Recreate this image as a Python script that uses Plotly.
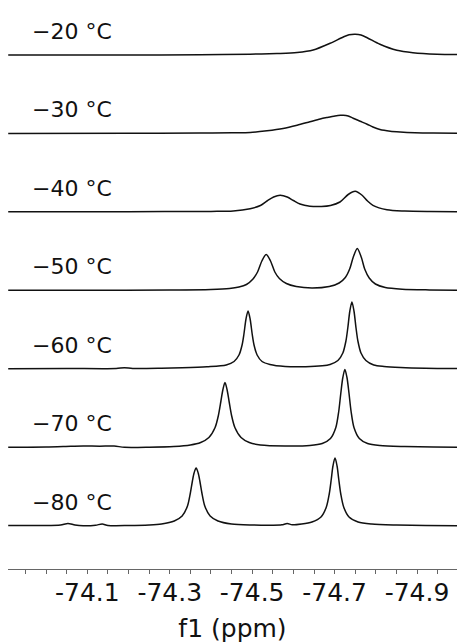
import plotly.graph_objects as go

# ---- data (ppm, relative intensity) ----
TEMPERATURES = ["−80 °C", "−70 °C", "−60 °C", "−50 °C", "−40 °C", "−30 °C", "−20 °C"]

ppm_m80 = [-73.908, -73.99, -74.035, -74.053, -74.07, -74.09, -74.12, -74.136, -74.15, -74.2, -74.25,
           -74.28, -74.311, -74.330, -74.343, -74.350, -74.355, -74.359, -74.364, -74.369, -74.373,
           -74.378, -74.385, -74.398, -74.417, -74.45, -74.50, -74.55, -74.572, -74.585, -74.597,
           -74.62, -74.645, -74.667, -74.680, -74.687, -74.692, -74.696, -74.701, -74.706, -74.710,
           -74.715, -74.722, -74.735, -74.757, -74.79, -74.85, -74.92, -74.997]
int_m80 = [0.5, 0.5, 1.0, 2.5, 1.0, 0.3, 0.8, 2.0, 0.6, 0.5, 1.0,
           2.0, 5, 10, 20, 33, 45, 53, 58, 53, 45,
           33, 20, 10, 5, 2.0, 1.0, 0.8, 1.2, 2.5, 1.2,
           2, 4, 9, 19, 32, 47, 60, 68, 60, 47,
           32, 19, 9, 4, 2, 1.0, 0.5, 0.3]

ppm_m70 = [-73.908, -74.0, -74.06, -74.09, -74.13, -74.165, -74.19, -74.25, -74.31, -74.35, -74.375,
           -74.395, -74.410, -74.418, -74.424, -74.429, -74.434, -74.439, -74.444, -74.450, -74.458,
           -74.473, -74.493, -74.52, -74.58, -74.64, -74.67, -74.690, -74.703, -74.710, -74.715,
           -74.720, -74.725, -74.730, -74.735, -74.740, -74.747, -74.760, -74.78, -74.81, -74.87,
           -74.94, -74.997]
int_m70 = [0.3, 0.5, 1.2, 1.5, 1.3, 1.5, 0.2, 0.3, 1.0, 2.5, 5,
           10, 20, 32, 46, 58, 65, 58, 46, 32, 20,
           10, 5, 2.5, 1.5, 2.0, 4, 9, 20, 36, 54,
           70, 78, 70, 54, 36, 20, 9, 4, 2, 1.0,
           0.5, 0.3]

ppm_m60 = [-73.908, -74.05, -74.17, -74.19, -74.21, -74.28, -74.33, -74.39, -74.437, -74.456, -74.468,
           -74.4755, -74.480, -74.485, -74.490, -74.495, -74.500, -74.5045, -74.512, -74.524, -74.543,
           -74.58, -74.63, -74.67, -74.689, -74.708, -74.720, -74.7275, -74.732, -74.737, -74.742,
           -74.747, -74.752, -74.7565, -74.764, -74.776, -74.795, -74.82, -74.86, -74.92, -74.997]
int_m60 = [0.3, 0.5, 0.5, 1.3, 0.5, 0.7, 1.2, 2.2, 4, 7.5, 14,
           24, 35, 50, 58, 50, 35, 24, 14, 7.5, 4.5,
           2.5, 2.3, 3.2, 4.5, 8.5, 16, 28, 41, 58, 67,
           58, 41, 28, 16, 8.5, 4, 2.5, 1.5, 0.8, 0.5]

ppm_m50 = [-73.908, -74.1, -74.3, -74.40, -74.445, -74.468, -74.486, -74.502, -74.513, -74.524, -74.534,
           -74.544, -74.555, -74.566, -74.583, -74.607, -74.645, -74.687, -74.711, -74.726, -74.737,
           -74.745, -74.755, -74.765, -74.773, -74.784, -74.799, -74.823, -74.864, -74.93, -74.997]
int_m50 = [0.3, 0.3, 0.5, 1.0, 2, 3.5, 6, 11.5, 18.5, 30, 36,
           30, 18.5, 12, 7, 4, 2.5, 4, 7.5, 13, 22,
           33, 42, 33, 21.5, 12.5, 6.5, 3, 1.3, 0.6, 0.3]

ppm_m40 = [-73.908, -74.2, -74.40, -74.454, -74.495, -74.520, -74.536, -74.552, -74.568, -74.585, -74.600,
           -74.616, -74.640, -74.668, -74.690, -74.713, -74.733, -74.750, -74.766, -74.780, -74.793,
           -74.827, -74.87, -74.93, -74.997]
int_m40 = [0.3, 0.3, 0.6, 1.0, 3.3, 6.5, 11, 15, 16.7, 15, 11.5,
           8, 5.8, 5.5, 6.5, 10, 17.5, 20.7, 17, 11, 6.7,
           2.3, 1.0, 0.5, 0.3]

ppm_m30 = [-73.908, -74.2, -74.373, -74.45, -74.495, -74.536, -74.575, -74.609, -74.640, -74.665, -74.682,
           -74.701, -74.714, -74.721, -74.733, -74.745, -74.762, -74.779, -74.793, -74.810, -74.835,
           -74.859, -74.895, -74.939, -74.997]
int_m30 = [0.0, 0.2, 0.5, 0.8, 1.0, 2.7, 5, 8.2, 11.7, 14.5, 16,
           17.5, 18.2, 18.3, 17.5, 15.3, 12.3, 9.3, 6.5, 4.0, 2.3,
           1.5, 0.8, 0.4, 0.2]

ppm_m20 = [-73.908, -74.2, -74.374, -74.495, -74.56, -74.609, -74.648, -74.689, -74.721, -74.735, -74.750,
           -74.764, -74.779, -74.810, -74.851, -74.890, -74.948, -74.997]
int_m20 = [0.0, 0.0, 0.3, 0.8, 1.5, 2.5, 5, 11.7, 18, 20.2, 20.7,
           20, 17.3, 10.7, 4.7, 2.3, 0.8, 0.5]

SPECTRA_PPM = [ppm_m80, ppm_m70, ppm_m60, ppm_m50, ppm_m40, ppm_m30, ppm_m20]
SPECTRA_INT = [int_m80, int_m70, int_m60, int_m50, int_m40, int_m30, int_m20]

TICK_VALUES = [-73.95, -74.0, -74.05, -74.1, -74.15, -74.2, -74.25, -74.3, -74.35, -74.4, -74.45,
               -74.5, -74.55, -74.6, -74.65, -74.7, -74.75, -74.8, -74.85, -74.9, -74.95]
TICK_LABELS = ["", "", "", "-74.1", "", "", "", "-74.3", "", "", "",
               "-74.5", "", "", "", "-74.7", "", "", "", "-74.9", ""]

# ---- layout constants ----
STACK_STEP = 78.5      # vertical offset between spectra (intensity units)
LABEL_LIFT = 24        # label centre above each baseline
LINE_COLOR = "#111111"

fig = go.Figure()
for i, (xs, ys) in enumerate(zip(SPECTRA_PPM, SPECTRA_INT)):
    offset = i * STACK_STEP
    fig.add_trace(go.Scatter(
        x=xs, y=[v + offset for v in ys], mode="lines",
        line=dict(color=LINE_COLOR, width=1.5, shape="spline", smoothing=0.8),
        showlegend=False, hoverinfo="skip"))
    fig.add_annotation(
        x=0.049, xref="paper", xanchor="left",
        y=offset + LABEL_LIFT, yref="y", yanchor="middle",
        text=TEMPERATURES[i], showarrow=False,
        font=dict(family="DejaVu Sans", size=22, color="#111111"))

fig.update_layout(
    width=458, height=643,
    margin=dict(l=8, r=1, t=0, b=74),
    plot_bgcolor="white", paper_bgcolor="white",
    xaxis=dict(
        range=[-73.9075, -74.997],
        tickmode="array", tickvals=TICK_VALUES, ticktext=TICK_LABELS,
        ticks="outside", ticklen=4, tickwidth=1, tickcolor="#666666",
        showline=True, linecolor="#666666", linewidth=1,
        showgrid=False, zeroline=False,
        tickfont=dict(family="DejaVu Sans", size=25, color="#111111"),
        ticklabelstandoff=-3,
        title=dict(text="f1 (ppm)", font=dict(family="DejaVu Sans", size=25, color="#111111"),
                   standoff=14),
    ),
    yaxis=dict(range=[-43, 526], visible=False, showgrid=False, zeroline=False, fixedrange=True),
)

fig.write_html("out.html", config={"displayModeBar": False, "staticPlot": True},
               post_script="document.body.style.margin='0';document.body.style.overflow='hidden';")
